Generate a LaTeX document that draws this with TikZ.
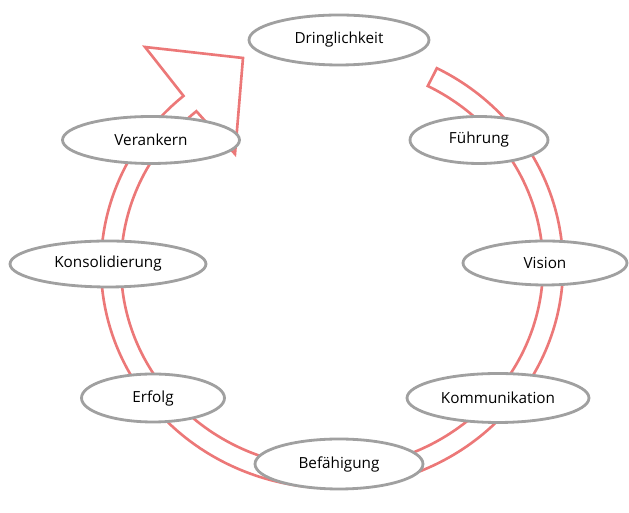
\documentclass[tikz,border=0pt]{standalone}
\usepackage{fontspec}
\setmainfont{Open Sans}
\usetikzlibrary{shapes.geometric,calc}
\definecolor{pfeilrot}{RGB}{236,120,120}
\definecolor{randgrau}{RGB}{160,160,160}

\begin{document}
\begin{tikzpicture}[x=0.02cm, y=0.02cm,
  phase/.style={draw = randgrau, fill = white, line width = 1.6pt, shape = ellipse, inner sep = 0pt, font = \fontsize{8.7}{10}\selectfont}]
\useasboundingbox (0,0) rectangle (629,513);
\coordinate (mitte) at (332,247);
% kreispfeil
\draw[pfeilrot, line width = 1.5pt, line join = miter]
  ($(mitte)+(63:231 and 222)$) arc[start angle = 63, end angle = -230, x radius = 231, y radius = 222]
  -- (145,466) -- (243,455) -- (235,359) -- ($(mitte)+(130:211 and 202)$)
  arc[start angle = -230, end angle = 63, x radius = 211, y radius = 202] -- cycle;
% phasen
\node[phase, minimum width = 3.6cm, minimum height = 1cm] (dringlichkeit) at (339,473) {Dringlichkeit};
\node[phase, minimum width = 2.76cm, minimum height = 0.94cm] (fuehrung) at (479,373) {Führung};
\node[phase, minimum width = 3.28cm, minimum height = 0.88cm] (vision) at (545,250) {Vision};
\node[phase, minimum width = 3.64cm, minimum height = 0.98cm] (kommunikation) at (498,115) {Kommunikation};
\node[phase, minimum width = 3.36cm, minimum height = 1cm] (befaehigung) at (339,49) {Befähigung};
\node[phase, minimum width = 2.86cm, minimum height = 0.96cm] (erfolg) at (153,115) {Erfolg};
\node[phase, minimum width = 3.92cm, minimum height = 0.92cm] (konsolidierung) at (108,249) {Konsolidierung};
\node[phase, minimum width = 3.54cm, minimum height = 0.94cm] (verankern) at (151,373) {Verankern};
\end{tikzpicture}
\end{document}
